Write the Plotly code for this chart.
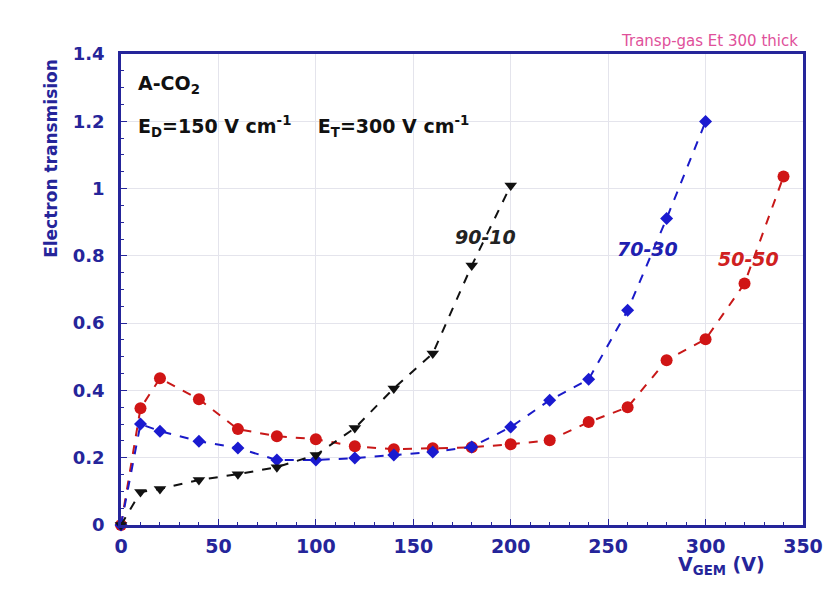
import plotly.graph_objects as go

x_9010 = [0, 10, 20, 40, 60, 80, 100, 120, 140, 160, 180, 200]
y_9010 = [0, 0.098, 0.107, 0.134, 0.151, 0.172, 0.208, 0.288, 0.406, 0.51, 0.771, 1.009]

x_7030 = [0, 10, 20, 40, 60, 80, 100, 120, 140, 160, 180, 200, 220, 240, 260, 280, 300]
y_7030 = [0, 0.30, 0.279, 0.249, 0.229, 0.193, 0.193, 0.199, 0.208, 0.217, 0.232, 0.291,
          0.371, 0.433, 0.638, 0.911, 1.199]

x_5050 = [0, 10, 20, 40, 60, 80, 100, 120, 140, 160, 180, 200, 220, 240, 260, 280, 300, 320, 340]
y_5050 = [0, 0.347, 0.436, 0.374, 0.285, 0.264, 0.255, 0.234, 0.225, 0.228, 0.231, 0.240,
          0.252, 0.306, 0.35, 0.49, 0.552, 0.718, 1.036]

x_ticks = [0, 50, 100, 150, 200, 250, 300, 350]
y_ticks = [0, 0.2, 0.4, 0.6, 0.8, 1, 1.2, 1.4]
y_ticklabels = ["0", "0.2", "0.4", "0.6", "0.8", "1", "1.2", "1.4"]

NAVY = "#25259a"
FONT = "DejaVu Sans, Arial, sans-serif"

fig = go.Figure()
fig.add_trace(go.Scatter(x=x_5050, y=y_5050, mode="lines+markers", cliponaxis=False,
                         line=dict(color="#c81818", width=2, dash="dash"),
                         marker=dict(symbol="circle", size=12, color="#d01515"),
                         name="50-50"))
fig.add_trace(go.Scatter(x=x_7030, y=y_7030, mode="lines+markers", cliponaxis=False,
                         line=dict(color="#1a1ac8", width=2, dash="dash"),
                         marker=dict(symbol="diamond", size=10, color="#1a1ad0"),
                         name="70-30"))
fig.add_trace(go.Scatter(x=x_9010, y=y_9010, mode="lines+markers", cliponaxis=False,
                         line=dict(color="#111111", width=2, dash="dash"),
                         marker=dict(symbol="triangle-down", size=11, color="#111111"),
                         name="90-10"))

fig.update_layout(
    width=835, height=597,
    margin=dict(l=121, r=29, t=54, b=72),
    paper_bgcolor="white", plot_bgcolor="white",
    showlegend=False,
    font=dict(family=FONT),
    xaxis=dict(range=[0, 350], tickvals=x_ticks, ticks="inside", ticklen=6,
               tickcolor=NAVY, showline=True, linecolor=NAVY, linewidth=2.5, mirror=True,
               showgrid=True, gridcolor="#e4e4ec", gridwidth=1, zeroline=False,
               ticklabelstandoff=2,
               tickfont=dict(family=FONT, size=19, color=NAVY, weight="bold"),
               minor=dict(dtick=10, ticks="inside", ticklen=3, tickcolor=NAVY, showgrid=False)),
    yaxis=dict(range=[0, 1.4], tickvals=y_ticks, ticktext=y_ticklabels, ticks="inside", ticklen=6,
               tickcolor=NAVY, showline=True, linecolor=NAVY, linewidth=2.5, mirror=True,
               showgrid=True, gridcolor="#e4e4ec", gridwidth=1, zeroline=False,
               ticklabelstandoff=10,
               tickfont=dict(family=FONT, size=18, color=NAVY, weight="bold"),
               minor=dict(dtick=0.05, ticks="inside", ticklen=3, tickcolor=NAVY, showgrid=False)),
)

annotations = [
    dict(text="Electron transmision", x=-0.103, y=0.779, xref="paper", yref="paper",
         xanchor="center", yanchor="middle", textangle=-90, showarrow=False,
         font=dict(family=FONT, size=17, color=NAVY, weight="bold")),
    dict(text="A-CO<sub>2</sub>", x=0.022, y=0.965, xref="paper", yref="paper",
         xanchor="left", yanchor="top", showarrow=False,
         font=dict(family=FONT, size=19, color="#111111", weight="bold")),
    dict(text="E<sub>D</sub>=150 V cm<sup>-1</sup>&nbsp;&nbsp;&nbsp;&nbsp;E<sub>T</sub>=300 V cm<sup>-1</sup>",
         x=0.022, y=0.88, xref="paper", yref="paper", xanchor="left", yanchor="top",
         showarrow=False, font=dict(family=FONT, size=19, color="#111111", weight="bold")),
    dict(text="<i>90-10</i>", x=187, y=0.857, xref="x", yref="y", showarrow=False,
         font=dict(family=FONT, size=19, color="#222222", weight="bold")),
    dict(text="<i>70-30</i>", x=270, y=0.82, xref="x", yref="y", showarrow=False,
         font=dict(family=FONT, size=19, color="#2020b0", weight="bold")),
    dict(text="<i>50-50</i>", x=322, y=0.79, xref="x", yref="y", showarrow=False,
         font=dict(family=FONT, size=19, color="#d02020", weight="bold")),
    dict(text="V<sub>GEM</sub> (V)", x=0.88, y=-0.055, xref="paper", yref="paper",
         xanchor="center", yanchor="top", showarrow=False,
         font=dict(family=FONT, size=19, color=NAVY, weight="bold")),
    dict(text="Transp-gas Et 300 thick", x=0.996, y=1.028, xref="paper", yref="paper",
         xanchor="right", yanchor="middle", showarrow=False,
         font=dict(family=FONT, size=15, color="#e0509a")),
]
fig.update_layout(annotations=annotations)

fig.write_html("out.html")
